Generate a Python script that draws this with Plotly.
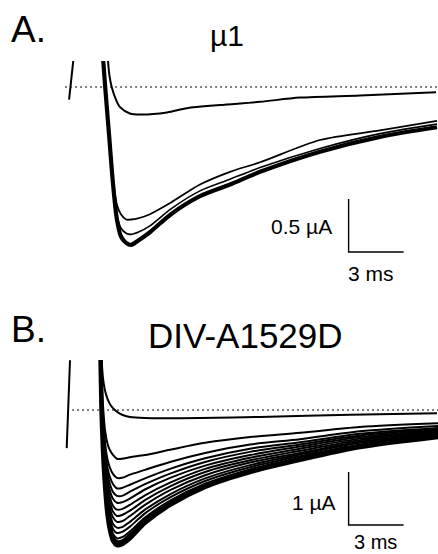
import plotly.graph_objects as go

W, H = 438, 554

# ---------------- Panel A (mu1) : time in ms, current in uA ----------------
t_A_art = [0.18, -0.05]
I_A_art = [0.25, -0.12]

t_A_small = [1.95, 2.05, 2.15, 2.29, 2.51, 2.73, 3.27, 3.82, 5.29, 6.38, 8.18, 10.37, 12.55, 15.82, 19.97]
I_A_small = [0.60, 0.30, 0.11, -0.01, -0.12, -0.19, -0.25, -0.26, -0.24, -0.20, -0.17, -0.14, -0.10, -0.08, -0.05]

t_A = [1.75, 1.91, 2.13, 2.35, 2.56, 2.78, 3.06, 3.33, 3.71, 4.36, 5.51, 7.09, 8.73, 10.37, 13.64, 16.91, 20.02]
I_A_upper = [0.40, 0.02, -0.44, -0.88, -1.11, -1.20, -1.25, -1.25, -1.24, -1.20, -1.09, -0.92, -0.80, -0.71, -0.50, -0.41, -0.32]
I_A_second = [0.40, 0.02, -0.45, -0.92, -1.21, -1.33, -1.38, -1.39, -1.37, -1.31, -1.15, -0.98, -0.87, -0.76, -0.58, -0.44, -0.35]
I_A_peak = [0.40, 0.02, -0.45, -0.92, -1.25, -1.41, -1.47, -1.49, -1.45, -1.37, -1.20, -1.03, -0.92, -0.80, -0.61, -0.47, -0.38]

A_base_t = [-0.27, 20.08]
A_bar_t0, A_bar_I0 = 15.2, -1.557   # scale bar corner
A_bar_dt, A_bar_dI = 3.0, 0.5       # 3 ms, 0.5 uA

# ---------------- Panel B (DIV-A1529D) ----------------
t_B_art = [0.0, -0.18]
I_B_art = [0.94, -0.72]

t_B_small = [1.69, 1.80, 1.96, 2.18, 2.51, 2.84, 3.27, 4.09, 7.09, 10.37, 15.28, 20.02]
I_B_small = [1.23, 0.60, 0.30, 0.11, -0.02, -0.09, -0.13, -0.15, -0.15, -0.13, -0.09, -0.06]

t_B = [1.64, 1.72, 1.80, 1.91, 2.05, 2.18, 2.35, 2.56, 2.84, 3.27, 4.09, 5.46, 7.37, 9.82, 12.55, 15.82, 20.08]
I_B_01 = [1.51, 0.66, 0.09, -0.38, -0.64, -0.76, -0.85, -0.92, -0.92, -0.89, -0.85, -0.75, -0.62, -0.51, -0.43, -0.32, -0.25]
I_B_02 = [1.49, 0.52, -0.09, -0.61, -0.94, -1.09, -1.21, -1.28, -1.28, -1.22, -1.13, -0.98, -0.81, -0.65, -0.55, -0.40, -0.30]
I_B_03 = [1.48, 0.44, -0.19, -0.73, -1.10, -1.27, -1.40, -1.48, -1.47, -1.41, -1.29, -1.11, -0.91, -0.73, -0.61, -0.45, -0.34]
I_B_04 = [1.47, 0.38, -0.27, -0.82, -1.22, -1.40, -1.55, -1.62, -1.62, -1.54, -1.40, -1.20, -0.98, -0.79, -0.65, -0.48, -0.36]
I_B_05 = [1.46, 0.32, -0.34, -0.91, -1.33, -1.53, -1.68, -1.75, -1.74, -1.67, -1.50, -1.28, -1.05, -0.85, -0.69, -0.51, -0.38]
I_B_06 = [1.45, 0.27, -0.41, -0.99, -1.43, -1.65, -1.81, -1.88, -1.87, -1.79, -1.61, -1.37, -1.11, -0.90, -0.73, -0.54, -0.40]
I_B_07 = [1.45, 0.22, -0.47, -1.06, -1.53, -1.75, -1.92, -2.00, -1.98, -1.90, -1.70, -1.44, -1.17, -0.95, -0.77, -0.57, -0.42]
I_B_08 = [1.44, 0.18, -0.53, -1.14, -1.62, -1.86, -2.03, -2.11, -2.10, -2.00, -1.79, -1.51, -1.23, -0.99, -0.81, -0.60, -0.44]
I_B_09 = [1.43, 0.13, -0.59, -1.21, -1.71, -1.96, -2.15, -2.22, -2.21, -2.11, -1.88, -1.59, -1.29, -1.04, -0.84, -0.62, -0.46]
I_B_10 = [1.43, 0.09, -0.64, -1.27, -1.79, -2.05, -2.25, -2.32, -2.30, -2.20, -1.95, -1.65, -1.34, -1.08, -0.87, -0.65, -0.47]
I_B_11 = [1.42, 0.05, -0.69, -1.33, -1.88, -2.14, -2.34, -2.42, -2.40, -2.29, -2.03, -1.71, -1.39, -1.12, -0.90, -0.67, -0.49]
I_B_12 = [1.42, 0.03, -0.72, -1.37, -1.93, -2.20, -2.41, -2.48, -2.47, -2.35, -2.08, -1.75, -1.42, -1.14, -0.92, -0.68, -0.50]
I_B_13 = [1.42, 0.00, -0.75, -1.42, -1.98, -2.26, -2.47, -2.55, -2.53, -2.42, -2.13, -1.79, -1.45, -1.17, -0.94, -0.70, -0.51]

B_base_t = [0.11, 20.08]
B_bar_t0, B_bar_I0 = 15.2, -2.17
B_bar_dt, B_bar_dI = 3.0, 1.0       # 3 ms, 1 uA

title_A = "\u00b51"
title_B = "DIV-A1529D"
label_A = "A."
label_B = "B."
bar_A_I = "0.5 \u00b5A"
bar_B_I = "1 \u00b5A"
bar_t = "3 ms"

# ---------------- figure ----------------
fig = go.Figure()
FONT = "Liberation Sans, Arial, Helvetica, sans-serif"


def line(x, y, xa, ya, width, dash=None, spline=True):
    fig.add_trace(go.Scatter(
        x=x, y=y, xaxis=xa, yaxis=ya, mode="lines",
        line=dict(color="black", width=width, dash=dash,
                  shape="spline" if spline else "linear", smoothing=0.8),
        hoverinfo="skip", showlegend=False))


# Panel A
line(A_base_t, [0, 0], "x", "y", 1, dash="2px,3px", spline=False)
line(t_A_art, I_A_art, "x", "y", 2, spline=False)
line(t_A_small, I_A_small, "x", "y", 2)
line(t_A, I_A_upper, "x", "y", 1.8)
line(t_A, I_A_second, "x", "y", 1.6)
line(t_A, I_A_peak, "x", "y", 4.2)
line([A_bar_t0, A_bar_t0, A_bar_t0 + A_bar_dt],
     [A_bar_I0 + A_bar_dI, A_bar_I0, A_bar_I0], "x", "y", 1.4, spline=False)

# Panel B
line(B_base_t, [0, 0], "x2", "y2", 1, dash="2px,3px", spline=False)
line(t_B_art, I_B_art, "x2", "y2", 2, spline=False)
line(t_B_small, I_B_small, "x2", "y2", 2)
fam = [I_B_01, I_B_02, I_B_03, I_B_04, I_B_05, I_B_06, I_B_07,
       I_B_08, I_B_09, I_B_10, I_B_11, I_B_12, I_B_13]
for i, tr in enumerate(fam):
    w = 2.0
    if i >= 11:
        w = 3.0
    if i == len(fam) - 1:
        w = 4.5
    line(t_B, tr, "x2", "y2", w)
line([B_bar_t0, B_bar_t0, B_bar_t0 + B_bar_dt],
     [B_bar_I0 + B_bar_dI, B_bar_I0, B_bar_I0], "x2", "y2", 1.4, spline=False)

# axes: pixel mapping (x: 18.33 px/ms, t=0 at x=70 px)
x_dom = [60 / W, 1.0]
x_rng = [(60 - 70) / 18.33, (438 - 70) / 18.33]
ax_common = dict(visible=False, fixedrange=True)
fig.update_layout(
    width=W, height=H, margin=dict(l=0, r=0, t=0, b=0),
    paper_bgcolor="white", plot_bgcolor="white",
    xaxis=dict(domain=x_dom, range=x_rng, anchor="y", **ax_common),
    yaxis=dict(domain=[1 - 262 / H, 1 - 61 / H],
               range=[(87 - 262) / 106, (87 - 61) / 106], anchor="x", **ax_common),
    xaxis2=dict(domain=x_dom, range=x_rng, anchor="y2", **ax_common),
    yaxis2=dict(domain=[1 - 552 / H, 1 - 360 / H],
                range=[(410 - 552) / 53, (410 - 360) / 53], anchor="x2", **ax_common),
    showlegend=False,
)


def txt(s, x, y, size, xanchor="center", yanchor="middle"):
    fig.add_annotation(text=s, x=x / W, y=1 - y / H, xref="paper", yref="paper",
                       xanchor=xanchor, yanchor=yanchor, showarrow=False,
                       borderpad=0,
                       font=dict(family=FONT, size=size, color="black"))


txt(label_A, 10, 30, 37, xanchor="left")
txt(title_A, 227, 35, 30)
txt(label_B, 10, 329, 37, xanchor="left")
txt(title_B, 245, 335, 35)
txt(bar_A_I, 301, 226, 21)
txt(bar_t, 371, 274, 21)
txt(bar_B_I, 314, 502, 21)
txt(bar_t, 375, 554, 20, yanchor="bottom")

fig.write_html(
    "out.html",
    config={"displayModeBar": False},
    post_script="document.body.style.margin='0';document.body.style.overflow='hidden';",
)
